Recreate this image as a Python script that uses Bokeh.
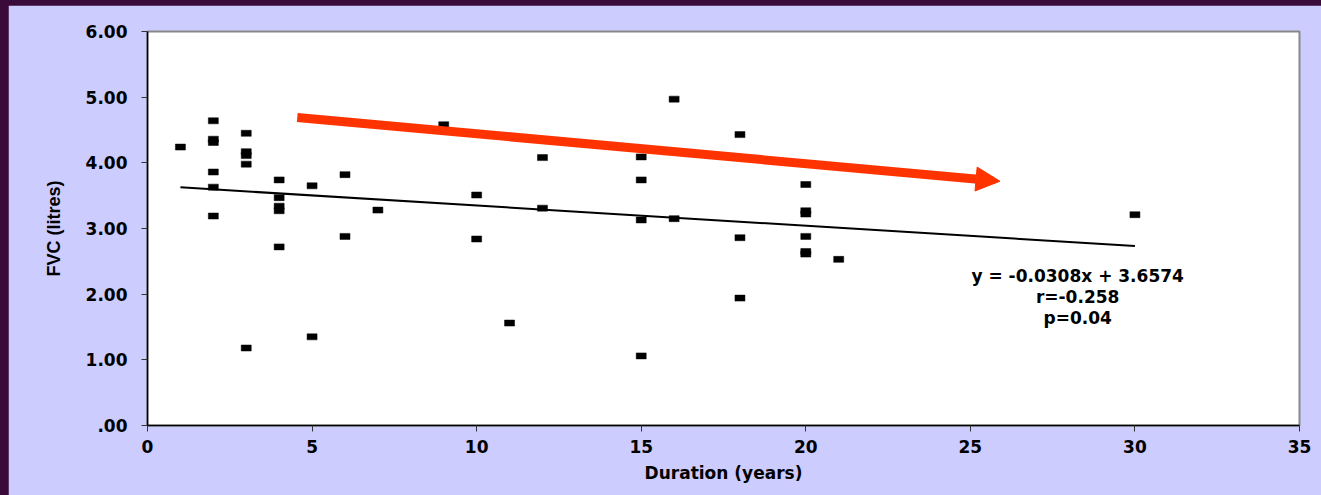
from bokeh.plotting import figure
from bokeh.models import Range1d, FixedTicker, NumeralTickFormatter, Arrow, NormalHead, ColumnDataSource
from bokeh.core.properties import value
from bokeh.embed import file_html
from bokeh.resources import INLINE

# ---- data ----
duration = [1,
            2, 2, 2, 2, 2, 2,
            3, 3, 3, 3, 3,
            4, 4, 4, 4, 4,
            5, 5,
            6, 6,
            7,
            9,
            10, 10,
            11,
            12, 12,
            15, 15, 15, 15,
            16, 16,
            18, 18, 18,
            20, 20, 20, 20, 20, 20,
            21,
            30]
fvc = [4.24,
       4.64, 4.36, 4.31, 3.86, 3.63, 3.19,
       4.45, 4.17, 4.11, 3.98, 1.18,
       3.74, 3.47, 3.34, 3.27, 2.72,
       3.65, 1.35,
       3.82, 2.88,
       3.28,
       4.58,
       3.51, 2.84,
       1.56,
       4.08, 3.31,
       4.09, 3.74, 3.13, 1.06,
       4.97, 3.15,
       4.43, 2.86, 1.94,
       3.67, 3.27, 3.22, 2.88, 2.65, 2.61,
       2.53,
       3.21]

fit_slope = -0.0308
fit_intercept = 3.6574
fit_x = [1, 30]
fit_y = [fit_intercept + fit_slope * v for v in fit_x]

x_ticks = [0, 5, 10, 15, 20, 25, 30, 35]
y_ticks = [0, 1, 2, 3, 4, 5, 6]

arrow_start = (4.55, 4.69)
arrow_end = (25.9, 3.72)

stats_lines = ["y = -0.0308x + 3.6574", "r=-0.258", "p=0.04"]
stats_x = [28.26, 28.26, 28.26]
stats_y = [2.27, 1.95, 1.63]

LAV = "#CCCCFF"
BOLD_FONT = "DejaVu Sans"

p = figure(width=1313, height=490, output_backend="svg", toolbar_location=None,
           x_range=Range1d(0, 35), y_range=Range1d(0, 6),
           min_border_left=139, min_border_right=22, min_border_top=26, min_border_bottom=70)
p.margin = (5, 0, 0, 8)
p.border_fill_color = LAV
p.background_fill_color = "white"
p.outline_line_color = "#888888"
p.outline_line_width = 2
p.xgrid.visible = False
p.ygrid.visible = False

# axes
for ax in (p.xaxis[0], p.yaxis[0]):
    ax.axis_line_color = "black"
    ax.axis_line_width = 1.5
    ax.major_tick_line_color = "#333333"
    ax.major_tick_out = 6
    ax.major_tick_in = 0
    ax.minor_tick_line_color = None
    ax.major_label_text_font = BOLD_FONT
    ax.major_label_text_font_style = "bold"
    ax.major_label_text_font_size = "17px"
    ax.major_label_text_color = "black"
    ax.axis_label_text_color = "black"
    ax.axis_label_text_font_style = "bold"

p.xaxis.ticker = FixedTicker(ticks=x_ticks)
p.yaxis.ticker = FixedTicker(ticks=y_ticks)
p.yaxis.formatter = NumeralTickFormatter(format="0.00")
p.yaxis.major_label_overrides = {0: ".00", "0": ".00"}
p.xaxis.major_label_standoff = 8
p.yaxis.major_label_standoff = 14

p.xaxis.axis_label = "Duration (years)"
p.xaxis.axis_label_text_font = BOLD_FONT
p.xaxis.axis_label_text_font_size = "17px"
p.xaxis.axis_label_standoff = 7

p.yaxis.axis_label = "FVC (litres)"
p.yaxis.axis_label_text_font = "Liberation Sans"
p.yaxis.axis_label_text_font_size = "18px"
p.yaxis.axis_label_standoff = 19

# trend line
p.line(fit_x, fit_y, line_color="black", line_width=2)

# data points
src = ColumnDataSource(dict(x=duration, y=fvc))
p.rect(x="x", y="y", width=10, height=6, width_units="screen", height_units="screen",
       source=src, fill_color="black", line_color="black", line_width=0.5)

# red arrow
p.add_layout(Arrow(end=NormalHead(size=24, fill_color="#FF3300", line_color="#FF3300", line_width=1),
                   x_start=arrow_start[0], y_start=arrow_start[1],
                   x_end=arrow_end[0], y_end=arrow_end[1],
                   line_color="#FF3300", line_width=9))

# statistics text
p.text(x=stats_x, y=stats_y, text=stats_lines, text_align="center", text_baseline="middle",
       text_font=value(BOLD_FONT), text_font_style="bold", text_font_size="17px", text_color="black")

html = file_html(p, INLINE)
html = html.replace("</head>", "<style>html,body{background:#3a0a3a;}</style></head>", 1)
open("out.html", "w").write(html)
